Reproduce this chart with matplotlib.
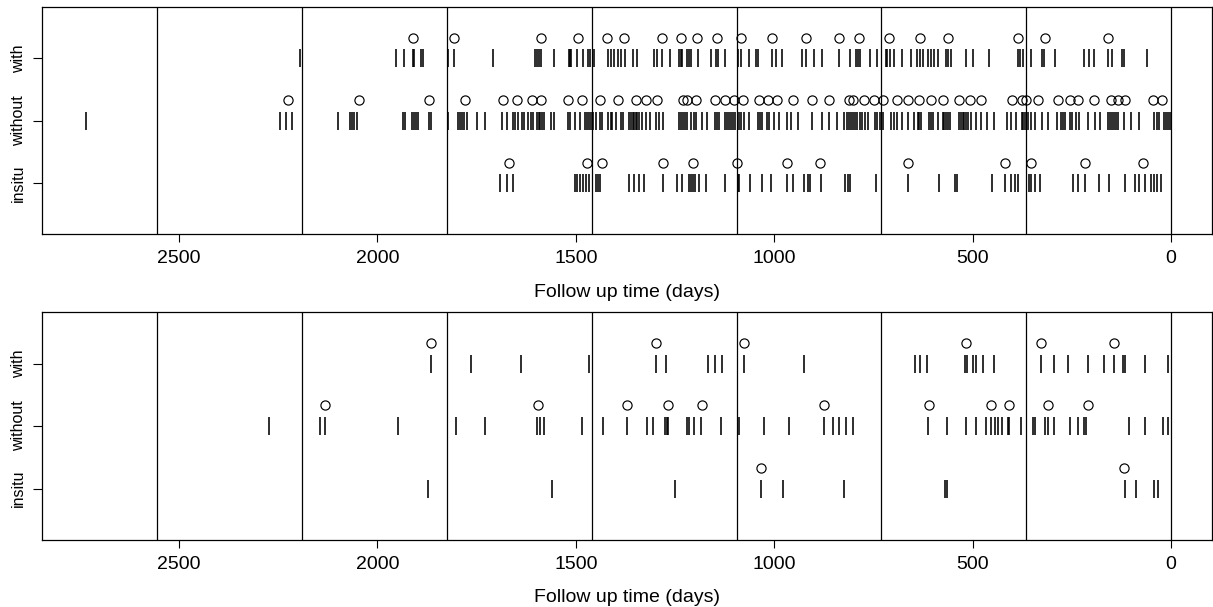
import matplotlib
matplotlib.use('Agg')
import matplotlib.pyplot as plt

plt.rcParams['font.family'] = ['Liberation Sans', 'DejaVu Sans']

rows = ['insitu', 'without', 'with']   # y = 1, 2, 3
year_lines = [0, 365, 730, 1095, 1460, 1825, 2190, 2555]
xticks = [0, 500, 1000, 1500, 2000, 2500]

# top panel - follow up times (ticks) and events (circles)
top_with = [2195, 1952, 1932, 1911, 1908, 1890, 1886, 1822, 1807, 1709, 1604, 1599, 1594, 1587, 1554,
            1518, 1515, 1512, 1496, 1482, 1470, 1463, 1454, 1419, 1412, 1404, 1394, 1385, 1377, 1355,
            1345, 1303, 1295, 1282, 1263, 1241, 1236, 1232, 1219, 1214, 1209, 1192, 1160, 1146, 1141,
            1125, 1091, 1085, 1064, 1047, 1042, 1005, 996, 981, 929, 921, 901, 879, 836, 809, 794, 789,
            784, 758, 740, 719, 715, 708, 699, 677, 656, 641, 632, 624, 612, 604, 597, 587, 566, 561,
            555, 517, 498, 458, 387, 382, 373, 353, 326, 321, 293, 219, 208, 195, 160, 150, 124, 118, 61]
top_with_ev = [1909, 1808, 1587, 1494, 1421, 1379, 1284, 1234, 1194, 1143, 1085, 1006, 919, 836, 786,
               711, 634, 563, 387, 318, 158]

top_without = [2735, 2246, 2230, 2215, 2099, 2068, 2064, 2060, 2051, 1935, 1930, 1912, 1908, 1902, 1898,
               1870, 1865, 1823, 1797, 1791, 1787, 1782, 1774, 1749, 1728, 1686, 1673, 1659, 1652, 1646,
               1635, 1631, 1621, 1614, 1609, 1597, 1593, 1589, 1585, 1580, 1562, 1555, 1520, 1515, 1501,
               1490, 1478, 1473, 1467, 1462, 1457, 1450, 1439, 1434, 1418, 1412, 1408, 1398, 1385, 1380,
               1366, 1360, 1357, 1353, 1349, 1345, 1341, 1332, 1324, 1313, 1299, 1290, 1280, 1241, 1236,
               1231, 1226, 1221, 1209, 1202, 1196, 1181, 1170, 1150, 1145, 1139, 1125, 1120, 1115, 1110,
               1105, 1100, 1088, 1083, 1076, 1064, 1041, 1036, 1031, 1019, 1013, 1001, 988, 969, 957, 940,
               906, 879, 862, 841, 824, 817, 812, 807, 802, 797, 792, 785, 779, 772, 765, 747, 740, 733,
               727, 705, 698, 691, 677, 663, 648, 639, 635, 629, 610, 605, 601, 588, 576, 572, 567, 563,
               556, 534, 530, 525, 521, 517, 513, 504, 492, 478, 464, 447, 414, 404, 391, 377, 372, 367,
               361, 353, 343, 326, 311, 287, 277, 272, 267, 254, 249, 240, 231, 210, 193, 178, 158, 153,
               148, 143, 138, 133, 118, 101, 80, 44, 35, 30, 18, 13, 7, 3]
top_without_ev = [2226, 2047, 1869, 1778, 1684, 1648, 1610, 1587, 1520, 1484, 1439, 1394, 1349, 1322,
                  1296, 1229, 1219, 1198, 1150, 1125, 1101, 1078, 1038, 1016, 994, 952, 905, 862, 811,
                  801, 774, 748, 727, 691, 663, 636, 605, 574, 534, 507, 478, 402, 377, 366, 336, 286,
                  254, 234, 195, 151, 133, 115, 45, 23]

top_insitu = [1690, 1673, 1658, 1501, 1497, 1490, 1482, 1475, 1467, 1449, 1445, 1439, 1366, 1354, 1341,
              1327, 1280, 1244, 1232, 1215, 1209, 1204, 1199, 1190, 1173, 1125, 1091, 1089, 1061, 1032,
              1009, 969, 952, 926, 916, 910, 883, 822, 815, 809, 744, 664, 584, 544, 540, 451, 418, 404,
              393, 385, 358, 352, 343, 330, 246, 235, 218, 181, 156, 116, 91, 80, 67, 50, 42, 35, 25]
top_insitu_ev = [1669, 1471, 1433, 1280, 1205, 1093, 969, 884, 664, 418, 353, 216, 71]

# bottom panel
bot_with = [1866, 1763, 1638, 1467, 1299, 1274, 1167, 1150, 1131, 1076, 926, 646, 632, 615, 520, 514,
            498, 492, 475, 446, 328, 294, 261, 210, 168, 143, 122, 116, 67, 8]
bot_with_ev = [1866, 1299, 1076, 517, 328, 143]

bot_without = [2274, 2144, 2133, 1948, 1803, 1729, 1597, 1591, 1580, 1484, 1431, 1370, 1320, 1305, 1276,
               1271, 1267, 1219, 1215, 1202, 1184, 1135, 1089, 1026, 964, 874, 853, 836, 820, 801, 612,
               565, 517, 492, 467, 454, 444, 436, 425, 412, 408, 378, 349, 343, 318, 311, 294, 256, 235,
               220, 214, 105, 67, 21, 8]
bot_without_ev = [2133, 1595, 1370, 1268, 1181, 874, 609, 454, 408, 311, 210]

bot_insitu = [1873, 1559, 1251, 1034, 979, 824, 569, 565, 116, 88, 42, 34]
bot_insitu_ev = [1034, 118]


def panel(ax, series):
    for yv, (times, events) in enumerate(series, start=1):
        ax.plot(times, [yv] * len(times), ls='none', marker='|', ms=13.2, mew=1.15, color='black')
        ax.plot(events, [yv + 0.33] * len(events), ls='none', marker='o', ms=6.6, mew=0.85,
                mfc='none', mec='black')
    for d in year_lines:
        ax.axvline(d, color='black', lw=0.9)
    ax.set_xlim(2845, -103)
    ax.set_ylim(0.184, 3.82)
    ax.set_xticks(xticks)
    ax.set_xticklabels([str(t) for t in xticks], fontsize=14)
    ax.set_yticks([1, 2, 3])
    ax.set_yticklabels(rows, rotation=90, va='center', fontsize=11.5)
    ax.tick_params(axis='x', length=6, width=0.8, pad=5.5)
    ax.tick_params(axis='y', length=6.8, width=0.8, pad=5)
    for sp in ax.spines.values():
        sp.set_linewidth(0.9)
    ax.set_xlabel('Follow up time (days)', fontsize=14, labelpad=12)


fig = plt.figure(figsize=(12.13, 6.07), dpi=100)
ax1 = fig.add_axes([0.03463, 0.61400, 0.96455, 0.37446])
ax2 = fig.add_axes([0.03463, 0.11104, 0.96455, 0.37446])

panel(ax1, [(top_insitu, top_insitu_ev), (top_without, top_without_ev), (top_with, top_with_ev)])
panel(ax2, [(bot_insitu, bot_insitu_ev), (bot_without, bot_without_ev), (bot_with, bot_with_ev)])

fig.savefig('out.png', dpi=100)
